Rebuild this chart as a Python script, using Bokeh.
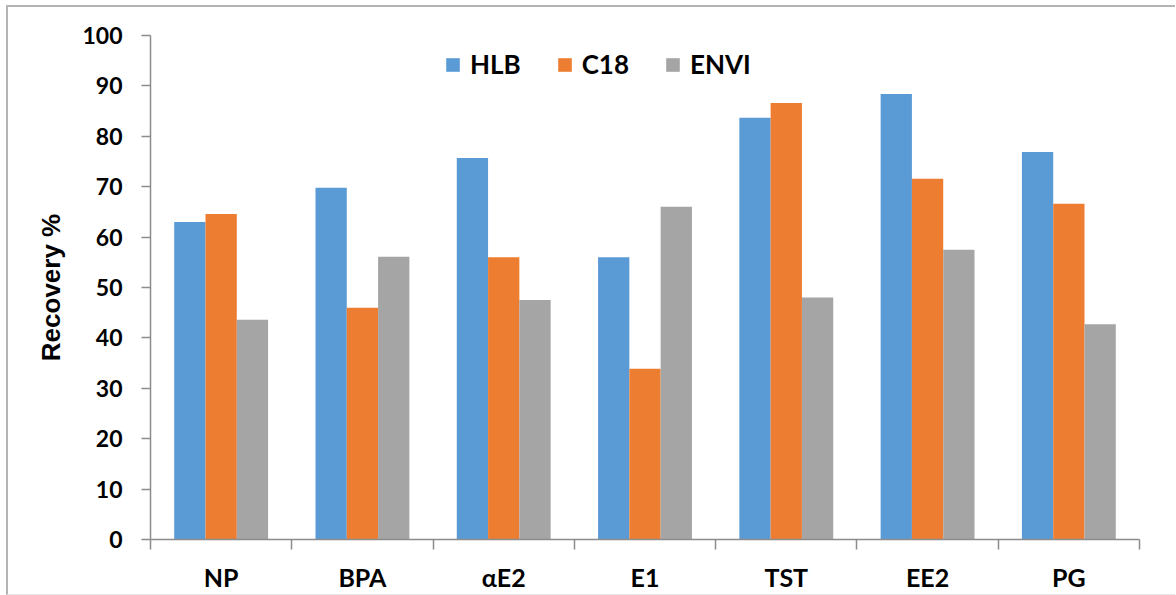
from bokeh.plotting import figure
from bokeh.models import Range1d, FixedTicker, ColumnDataSource, Legend
from bokeh.transform import dodge
from bokeh.embed import file_html
from bokeh.resources import INLINE

categories = ["NP", "BPA", "αE2", "E1", "TST", "EE2", "PG"]
hlb = [63.0, 69.8, 75.7, 56.0, 83.7, 88.4, 76.9]
c18 = [64.6, 46.0, 56.0, 33.9, 86.6, 71.6, 66.6]
envi = [43.6, 56.1, 47.5, 66.0, 48.0, 57.5, 42.7]
y_ticks = [0, 10, 20, 30, 40, 50, 60, 70, 80, 90, 100]

centers = [i + 0.5 for i in range(len(categories))]
bounds = list(range(len(categories) + 1))
src = ColumnDataSource(dict(x=centers, hlb=hlb, c18=c18, envi=envi))

p = figure(output_backend="svg", toolbar_location=None,
           x_range=Range1d(0, len(categories)), y_range=Range1d(0, 100),
           frame_width=989, frame_height=504,
           min_border_left=142, min_border_right=36,
           min_border_top=28, min_border_bottom=52,
           background_fill_color="white", border_fill_color="white",
           styles={"margin-left": "6px", "margin-top": "5px",
                   "border-left": "2px solid #b4b4b4", "border-top": "2px solid #b4b4b4",
                   "border-bottom": "1px solid #e6e6e6"})
p.outline_line_color = None
p.grid.visible = False

bw = 0.2215
colors = ["#5B9BD5", "#ED7D31", "#A5A5A5"]
renderers = []
for off, col, color in zip([-bw, 0, bw], ["hlb", "c18", "envi"], colors):
    r = p.vbar(x=dodge("x", off, range=p.x_range), top=col, width=bw, bottom=0,
               source=src, fill_color=color, line_color=None)
    renderers.append(r)

legend = Legend(items=[("HLB", [renderers[0]]), ("C18", [renderers[1]]), ("ENVI", [renderers[2]])],
                orientation="horizontal", location=(294, 459),
                glyph_width=17, glyph_height=17, label_standoff=9, spacing=35,
                padding=0, margin=0, border_line_color=None, background_fill_alpha=0,
                label_text_font="Lato", label_text_font_style="bold",
                label_text_font_size="26px", label_text_color="black", label_height=17)
p.add_layout(legend)

axis_color = "#8c8c8c"
# x axis
xa = p.xaxis[0]
xa.ticker = FixedTicker(ticks=centers, minor_ticks=bounds)
xa.major_label_overrides = {c: n for c, n in zip(centers, categories)}
xa.major_tick_line_color = None
xa.major_tick_out = 0
xa.major_tick_in = 0
xa.minor_tick_out = 10
xa.minor_tick_in = 0
xa.minor_tick_line_color = axis_color
xa.minor_tick_line_width = 1.5
xa.axis_line_color = axis_color
xa.axis_line_width = 1.5
xa.major_label_text_font = "Lato"
xa.major_label_text_font_style = "bold"
xa.major_label_text_font_size = "25px"
xa.major_label_text_color = "black"
xa.major_label_standoff = 12

# y axis
ya = p.yaxis[0]
ya.ticker = FixedTicker(ticks=y_ticks)
ya.major_tick_out = 9
ya.major_tick_in = 0
ya.minor_tick_line_color = None
ya.major_tick_line_color = axis_color
ya.major_tick_line_width = 1.5
ya.axis_line_color = axis_color
ya.axis_line_width = 1.5
ya.major_label_text_font = "Lato"
ya.major_label_text_font_style = "bold"
ya.major_label_text_font_size = "23px"
ya.major_label_text_color = "black"
ya.major_label_standoff = 19
ya.axis_label = "Recovery %"
ya.axis_label_text_font = "Liberation Sans"
ya.axis_label_text_font_style = "bold"
ya.axis_label_text_font_size = "26px"
ya.axis_label_text_color = "black"
ya.axis_label_standoff = 13

open("out.html", "w").write(file_html(p, INLINE))
